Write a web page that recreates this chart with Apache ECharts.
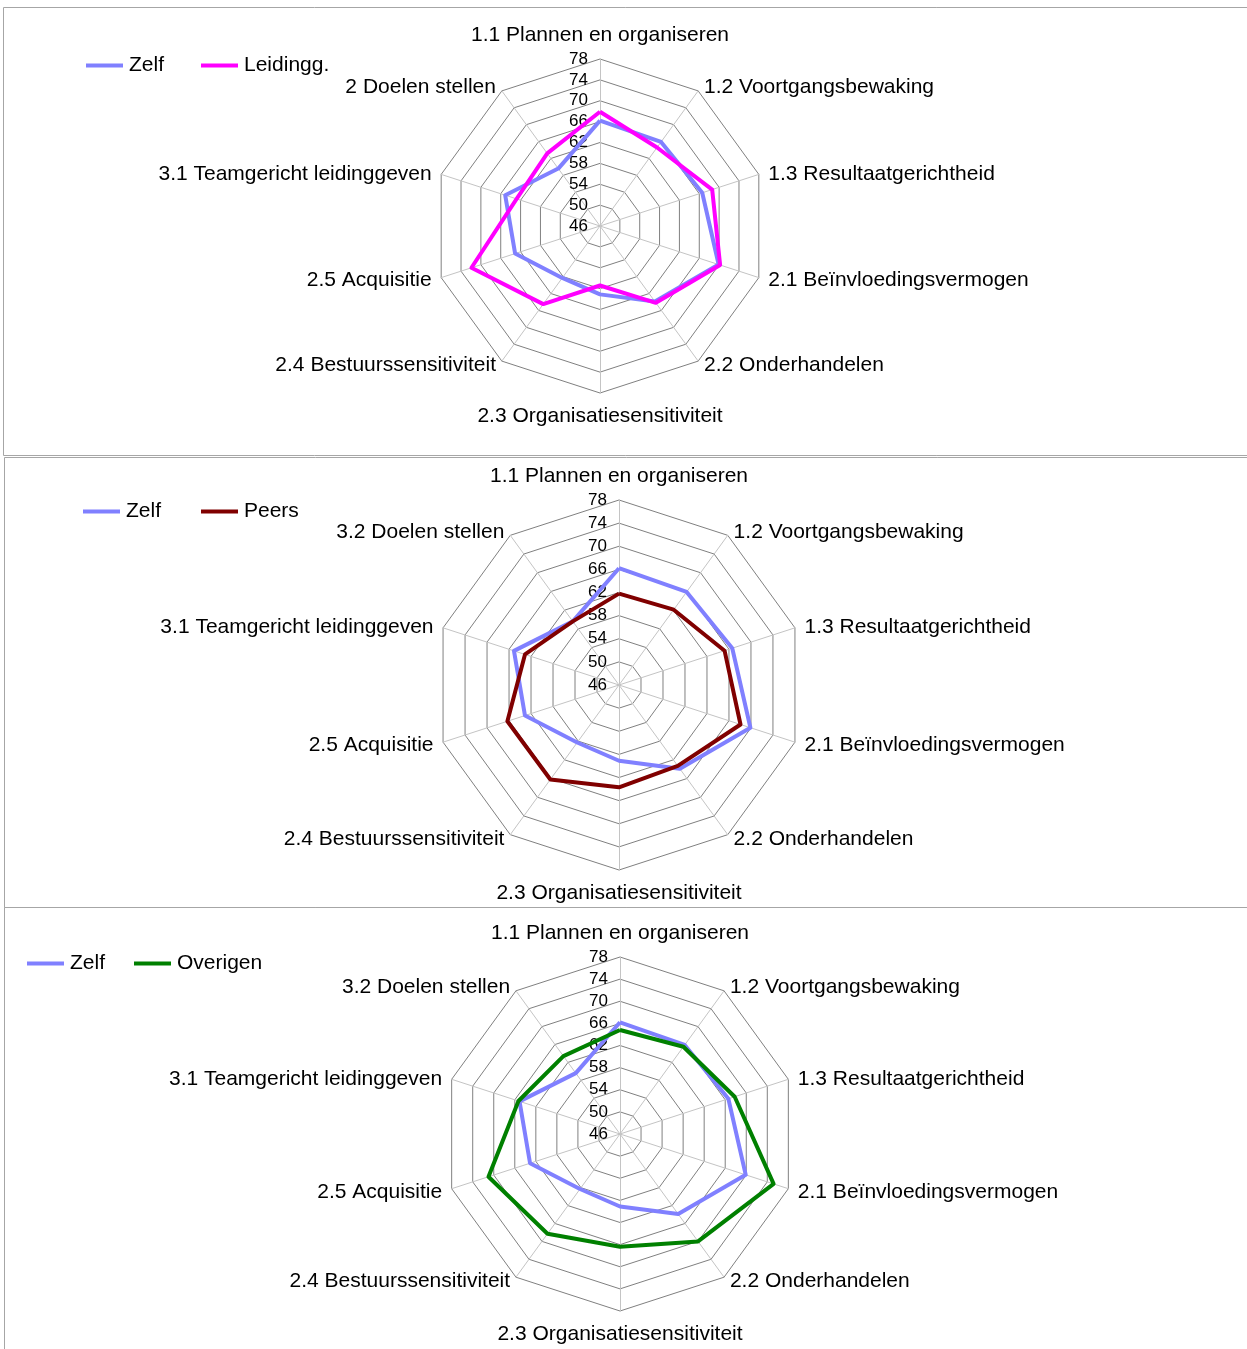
<!DOCTYPE html>
<html><head><meta charset="utf-8">
<script src="https://cdn.jsdelivr.net/npm/echarts@6/dist/echarts.min.js"></script>
<style>html,body{margin:0;padding:0;background:#fff}#c{width:1247px;height:1349px}</style>
</head><body><div id="c"></div>
<script>
// Categories listed clockwise from the top
const categoriesTop = ['1.1 Plannen en organiseren','1.2 Voortgangsbewaking','1.3 Resultaatgerichtheid','2.1 Beïnvloedingsvermogen','2.2 Onderhandelen','2.3 Organisatiesensitiviteit','2.4 Bestuurssensitiviteit','2.5 Acquisitie','3.1 Teamgericht leidinggeven','2 Doelen stellen'];
const categoriesLower = ['1.1 Plannen en organiseren','1.2 Voortgangsbewaking','1.3 Resultaatgerichtheid','2.1 Beïnvloedingsvermogen','2.2 Onderhandelen','2.3 Organisatiesensitiviteit','2.4 Bestuurssensitiviteit','2.5 Acquisitie','3.1 Teamgericht leidinggeven','3.2 Doelen stellen'];
const zelf     = [66.2, 65.9, 66.6, 69.9, 63.9, 59.1, 58.3, 63.1, 65.1, 59.6];
const leidingg = [67.9, 64.6, 68.6, 70.2, 64.2, 57.4, 64.5, 71.9, 62.8, 63.2];
const peers    = [61.8, 62.1, 65.2, 68.1, 63.3, 63.7, 66.2, 66.3, 63.1, 59.6];
const overigen = [64.8, 65.5, 67.8, 75.2, 70.0, 66.4, 68.3, 71.0, 65.3, 63.4];
const axisMin = 46, axisMax = 78, axisStep = 4;

const FONT = 'Liberation Sans, Arial, sans-serif';
// ECharts places indicators counter-clockwise; reorder so they run clockwise
const cw = arr => [arr[0]].concat(arr.slice(1).reverse());
// vertical label nudges per position (clockwise index from the top); positive = down
const nameShift = [0, 9, 5, 0, -8, 0, -8, 0, 5, 9];
const namePad = [[0,0,3,0],[0,0,0,0],[0,0,0,0],[0,0,0,0],[0,0,0,0],[3,0,0,0],[0,0,0,0],[0,0,0,0],[0,0,0,0],[0,0,0,0]];

function makeRadar(center, radius, cats) {
  const pads = cw(namePad);
  const shifts = {};
  cats.forEach((c, k) => { shifts[c] = nameShift[k]; });
  return {
    center: center, radius: radius, startAngle: 90, shape: 'polygon',
    splitNumber: (axisMax - axisMin) / axisStep,
    indicator: cw(cats).map((name, i) => {
      const o = {name: name, min: axisMin, max: axisMax, nameTextStyle: {padding: pads[i]}};
      if (i === 0) o.axisLabel = {show: true};
      return o;
    }),
    nameGap: 10,
    axisName: {
      color: '#000', fontSize: 21, fontFamily: FONT,
      formatter: function (name) {
        const s = shifts[name] || 0;
        if (s > 0) return '{g' + s + '| }\n{t|' + name + '}';
        if (s < 0) return '{t|' + name + '}\n{g' + (-s) + '| }';
        return name;
      },
      rich: {
        t: {color: '#000', fontSize: 21, fontFamily: FONT},
        g5: {fontSize: 1, lineHeight: 5},
        g8: {fontSize: 1, lineHeight: 8},
        g9: {fontSize: 1, lineHeight: 9}
      }
    },
    axisLine: {show: true, lineStyle: {color: '#c4c4c4', width: 1}},
    splitLine: {lineStyle: {color: '#808080', width: 1}},
    splitArea: {show: false},
    axisTick: {show: false},
    axisLabel: {show: false, color: '#000', fontSize: 17, fontFamily: FONT, margin: 12, showMinLabel: true, showMaxLabel: true}
  };
}
function makeSeries(name, radarIndex, values, color) {
  return {
    type: 'radar', name: name, radarIndex: radarIndex, symbol: 'none', silent: true,
    itemStyle: {color: color}, lineStyle: {color: color, width: 4},
    data: [{name: name, value: cw(values)}], z: name === 'Zelf' ? 2 : 3
  };
}
function makeLegend(left, top, gap, names) {
  return {
    left: left, top: top, orient: 'horizontal', icon: 'rect', itemWidth: 37, itemHeight: 4,
    itemGap: gap, selectedMode: false, data: names, padding: 0,
    textStyle: {color: '#000', fontSize: 21, fontFamily: FONT, padding: [0, 0, 0, 1]}
  };
}
const BLUE = '#8080ff', MAGENTA = '#ff00ff', DARKRED = '#800000', GREEN = '#008000';

const chart = echarts.init(document.getElementById('c'), null, {renderer: 'canvas'});
chart.setOption({
  backgroundColor: '#fff',
  animation: false,
  graphic: [
    {type: 'rect', shape: {x: 3.5, y: 7.5, width: 1260, height: 448}, style: {fill: 'none', stroke: '#a6a6a6', lineWidth: 1}},
    {type: 'rect', shape: {x: 4.5, y: 457.5, width: 1260, height: 450}, style: {fill: 'none', stroke: '#a6a6a6', lineWidth: 1}},
    {type: 'rect', shape: {x: 4.5, y: 907.5, width: 1260, height: 460}, style: {fill: 'none', stroke: '#a6a6a6', lineWidth: 1}}
  ],
  legend: [
    makeLegend(86, 55, 37, ['Zelf', 'Leidingg.']),
    makeLegend(83, 501, 40, ['Zelf', 'Peers']),
    makeLegend(27, 953, 29, ['Zelf', 'Overigen'])
  ],
  radar: [
    makeRadar([600, 226], 167, categoriesTop),
    makeRadar([619, 685], 185, categoriesLower),
    makeRadar([620, 1134], 177, categoriesLower)
  ],
  series: [
    makeSeries('Zelf', 0, zelf, BLUE),
    makeSeries('Leidingg.', 0, leidingg, MAGENTA),
    makeSeries('Zelf', 1, zelf, BLUE),
    makeSeries('Peers', 1, peers, DARKRED),
    makeSeries('Zelf', 2, zelf, BLUE),
    makeSeries('Overigen', 2, overigen, GREEN)
  ]
});
</script>
</body></html>
